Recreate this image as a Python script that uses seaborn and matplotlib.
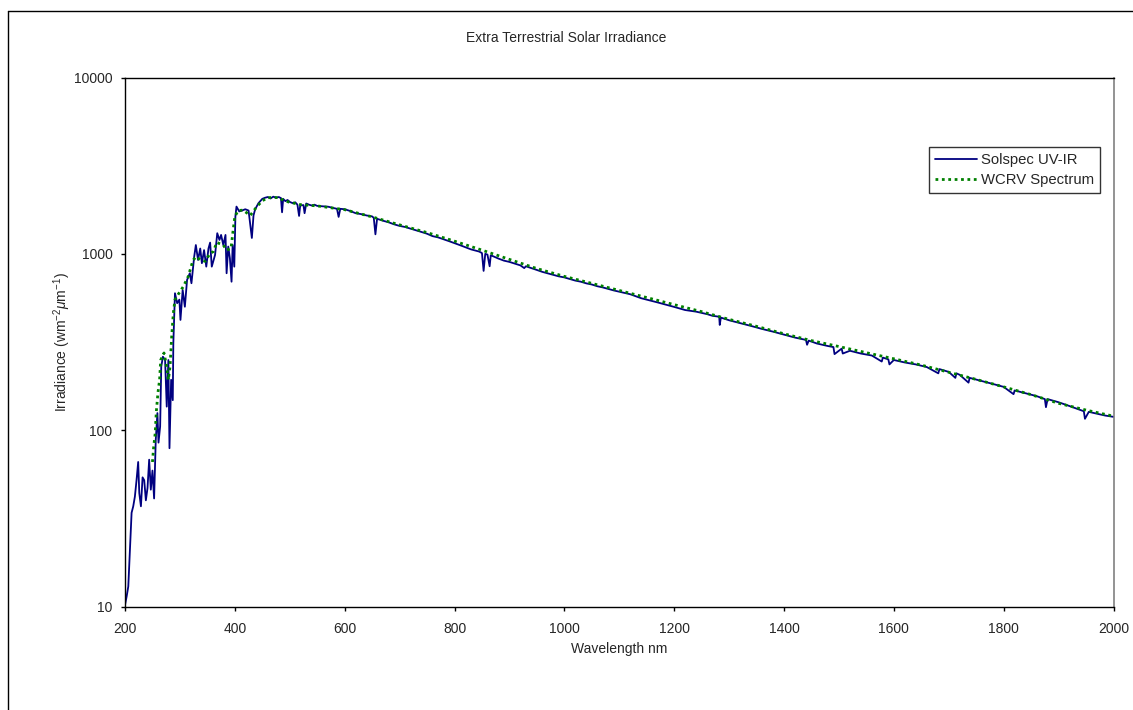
import numpy as np
import pandas as pd
import matplotlib
matplotlib.use("Agg")
import matplotlib.pyplot as plt
import seaborn as sns
from matplotlib.lines import Line2D
from matplotlib.ticker import NullLocator

# Solspec UV-IR spectrum (nm, W m-2 um-1)
solspec_wl = [200, 203, 206, 209, 212, 215, 218, 221, 224, 226, 229, 232, 235, 238, 241, 244, 247, 250,
              253, 256, 259, 261, 264, 266, 269, 273, 276, 279, 281, 284, 287, 288, 291, 295, 299, 301,
              305, 309, 313, 318, 321, 326, 329, 333, 337, 340, 344, 348, 352, 355, 358, 364, 368, 372,
              375, 379, 383, 385, 388, 391, 394, 396, 399, 401, 403, 408, 413, 419, 425, 431, 434, 437,
              443, 450, 455, 460, 465, 470, 475, 480, 484, 486, 488, 492, 496, 500, 505, 510, 514, 517,
              519, 525, 527, 530, 535, 540, 545, 550, 560, 570, 580, 586, 589, 592, 600, 610, 620, 630,
              640, 650, 653, 656, 659, 670, 680, 690, 700, 710, 720, 730, 740, 750, 760, 770, 780, 790,
              800, 810, 820, 830, 840, 845, 850, 853, 856, 860, 864, 866, 870, 880, 890, 900, 910, 920,
              927, 930, 940, 950, 960, 970, 980, 990, 1000, 1010, 1020, 1030, 1040, 1050, 1060, 1070,
              1080, 1090, 1100, 1110, 1120, 1130, 1140, 1150, 1160, 1170, 1180, 1190, 1200, 1210, 1220,
              1240, 1260, 1270, 1282, 1283, 1285, 1300, 1320, 1340, 1360, 1380, 1400, 1420, 1440, 1442,
              1445, 1460, 1480, 1490, 1492, 1505, 1507, 1520, 1540, 1560, 1578, 1580, 1590, 1592, 1600,
              1620, 1640, 1660, 1681, 1683, 1700, 1712, 1714, 1720, 1736, 1738, 1760, 1780, 1800, 1818,
              1820, 1840, 1860, 1875, 1877, 1880, 1900, 1920, 1940, 1946, 1948, 1955, 1970, 1985, 2000]
solspec_irr = [10.2, 11.4, 13, 21, 34, 37, 42, 52, 66, 44, 37, 54, 52, 40, 47, 68, 46, 59,
               41, 88, 125, 85, 105, 229, 261, 250, 136, 250, 79, 193, 148, 311, 598, 525, 550, 422,
               624, 501, 711, 776, 681, 964, 1122, 923, 1072, 885, 1050, 846, 1072, 1158, 846, 986, 1309, 1199,
               1280, 1122, 1280, 776, 1100, 944, 695, 1122, 846, 1626, 1853, 1740, 1760, 1790, 1760, 1230, 1650, 1790,
               1937, 2050, 2080, 2100, 2060, 2110, 2080, 2100, 2070, 1720, 2050, 1990, 2020, 1970, 1940, 1960, 1900, 1640,
               1880, 1890, 1700, 1930, 1900, 1880, 1900, 1870, 1860, 1850, 1820, 1800, 1620, 1800, 1790, 1750, 1700, 1680,
               1650, 1630, 1600, 1290, 1580, 1540, 1510, 1470, 1440, 1420, 1390, 1360, 1330, 1300, 1260, 1240, 1210, 1180,
               1150, 1120, 1090, 1060, 1040, 1030, 1010, 800, 1000, 990, 850, 980, 970, 940, 915, 900, 880, 860,
               830, 850, 830, 810, 790, 775, 760, 745, 735, 720, 705, 695, 680, 670, 655, 645,
               632, 620, 610, 600, 590, 575, 560, 550, 540, 530, 520, 510, 500, 490, 480,
               470, 455, 445, 440, 395, 435, 420, 405, 390, 375, 362, 348, 335, 325, 305,
               322, 310, 300, 296, 270, 290, 272, 282, 272, 265, 245, 258, 252, 236, 250,
               242, 236, 228, 210, 222, 214, 198, 210, 206, 186, 198, 190, 183, 176, 160,
               168, 162, 156, 150, 135, 150, 144, 137, 130, 128, 116, 127, 124, 121, 119]

# WCRV reference spectrum (smoother, dotted)
wcrv_wl = [250, 252, 255, 257, 260, 263, 265, 271, 276, 279, 282, 285, 288, 291, 297, 306, 315, 324,
           330, 337, 346, 355, 361, 367, 373, 379, 385, 393, 397, 400, 406, 415, 428, 440, 450, 460,
           470, 480, 490, 500, 520, 550, 600, 650, 700, 750, 800, 850, 900, 950, 1000, 1050, 1100,
           1150, 1200, 1250, 1300, 1350, 1400, 1450, 1500, 1550, 1600, 1650, 1700, 1750, 1800, 1850,
           1900, 1950, 2000]
wcrv_irr = [66, 79, 96, 127, 163, 193, 250, 274, 229, 193, 229, 339, 460, 550, 590, 651, 742, 923,
            964, 923, 907, 1007, 1030, 1160, 1140, 1122, 1050, 1072, 1367, 1626, 1760, 1770, 1650, 1850, 2000, 2080,
            2090, 2080, 2000, 1960, 1900, 1870, 1780, 1620, 1460, 1320, 1180, 1050, 930, 825, 745, 680, 620,
            565, 515, 470, 425, 388, 352, 322, 298, 275, 254, 234, 213, 194, 176, 159,
            142, 130, 120]

x_ticks = [200, 400, 600, 800, 1000, 1200, 1400, 1600, 1800, 2000]
y_ticks = [10, 100, 1000, 10000]

sns.set_style("white")
plt.rcParams['font.family'] = ['Liberation Sans', 'DejaVu Sans']
plt.rcParams['mathtext.fontset'] = 'custom'
plt.rcParams['mathtext.rm'] = 'Liberation Sans'
plt.rcParams['mathtext.it'] = 'Liberation Sans:italic'

solspec = pd.DataFrame({'wl': solspec_wl, 'irr': solspec_irr})
wcrv = pd.DataFrame({'wl': wcrv_wl, 'irr': wcrv_irr})

fig = plt.figure(figsize=(11.33, 7.10), dpi=100)
ax = fig.add_axes([125 / 1133, 1 - 606.5 / 710, 988.5 / 1133, 529 / 710])

sns.lineplot(data=solspec, x='wl', y='irr', ax=ax, color='#000080', lw=1.3,
             estimator=None, sort=False, label='Solspec UV-IR')
sns.lineplot(data=wcrv, x='wl', y='irr', ax=ax, color='#008000', lw=2,
             linestyle=(0, (1, 1.3)), estimator=None, sort=False, label='WCRV Spectrum')

ax.set_yscale('log')
ax.set_xlim(200, 2000)
ax.set_ylim(10, 10000)
ax.set_xticks(x_ticks)
ax.set_xticklabels([str(t) for t in x_ticks])
ax.set_yticks(y_ticks)
ax.set_yticklabels([str(t) for t in y_ticks])
ax.yaxis.set_minor_locator(NullLocator())
ax.tick_params(axis='both', which='major', direction='out', length=3, width=1,
               color='black', labelsize=10, bottom=True, left=True)
ax.tick_params(axis='x', pad=8.5)
ax.tick_params(axis='y', pad=6)

for side in ['left', 'bottom', 'top']:
    ax.spines[side].set_color('black')
    ax.spines[side].set_linewidth(1)
ax.spines['right'].set_color('#808080')
ax.spines['right'].set_linewidth(1.2)

ax.set_xlabel('Wavelength nm', fontsize=10)
ax.set_ylabel(r'Irradiance (wm$^{-2}$$\mu$m$^{-1}$)', fontsize=10)
ax.xaxis.set_label_coords(0.5, -0.068)
ax.yaxis.set_label_coords(-0.053, 0.5)

fig.text(0.5, 1 - 38 / 710, 'Extra Terrestrial Solar Irradiance', ha='center', va='center', fontsize=10)

leg = ax.legend(loc='upper left', bbox_to_anchor=(0.8134, 0.8686), frameon=True, fancybox=False,
                edgecolor='black', fontsize=10.75, handlelength=2.8, handletextpad=0.25,
                labelspacing=0.4, borderpad=0.4, borderaxespad=0)
leg.get_frame().set_linewidth(1)

# chart area border (extends past the right and bottom of the image)
fig.add_artist(Line2D([7.5 / 1133, 7.5 / 1133], [0, 1 - 10.5 / 710], transform=fig.transFigure, color='black', lw=1))
fig.add_artist(Line2D([7.5 / 1133, 1], [1 - 10.5 / 710, 1 - 10.5 / 710], transform=fig.transFigure, color='black', lw=1))

fig.savefig('out.png', dpi=100)
